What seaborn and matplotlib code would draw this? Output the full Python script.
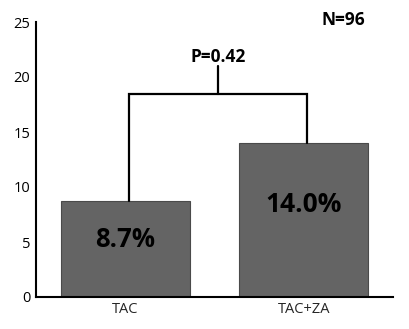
import matplotlib
matplotlib.use("Agg")
import matplotlib.pyplot as plt
import seaborn as sns
import pandas as pd

categories = ["TAC", "TAC+ZA"]
values = [8.7, 14.0]
bar_labels = ["8.7%", "14.0%"]
p_text = "P=0.42"
n_text = "N=96"

sns.set_theme(style="white")
plt.rcParams['font.family'] = ['Open Sans', 'DejaVu Sans']

fig = plt.figure(figsize=(4.09, 3.29), dpi=100)
ax = fig.add_axes([36/409, 1-297/329, (393-36)/409, (297-22)/329])

df = pd.DataFrame({"group": categories, "value": values})
sns.barplot(data=df, x="group", y="value", color="#646464", edgecolor="#4a4a4a",
            linewidth=0.8, width=0.72, saturation=1, ax=ax)

ax.set_xlim(-0.5, 1.5)
ax.set_ylim(0, 25)
ax.set_yticks([0, 5, 10, 15, 20, 25])
ax.set_xlabel("")
ax.set_ylabel("")
for s in ["top", "right"]:
    ax.spines[s].set_visible(False)
for s in ["left", "bottom"]:
    ax.spines[s].set_linewidth(1.5)
    ax.spines[s].set_color("black")

ax.tick_params(axis="y", direction="in", length=6, width=1.5, labelsize=10.5, pad=4, colors="black")
ax.tick_params(axis="x", which="major", length=0, labelsize=10.5, pad=3.5)
ax.set_xticks([-0.5, 0.5, 1.5], minor=True)
ax.tick_params(axis="x", which="minor", direction="in", length=5, width=1.5, color="black")

# bar value labels
ax.text(0, 5.2, bar_labels[0], ha="center", va="center", fontsize=18.5, fontweight="bold", color="black")
ax.text(1, 8.4, bar_labels[1], ha="center", va="center", fontsize=19, fontweight="bold", color="black")

# bracket
yb = 18.45
ax.plot([0.02, 0.02, 1.02, 1.02], [values[0], yb, yb, values[1]], color="black", lw=1.6,
        solid_joinstyle="miter", clip_on=False)
ax.plot([0.52, 0.52], [yb, 21.0], color="black", lw=1.6)
ax.text(0.52, 21.85, p_text, ha="center", va="center", fontsize=12.5, fontweight="bold", color="black")

ax.text(1.22, 25.2, n_text, ha="center", va="center", fontsize=12.5, fontweight="bold", color="black")

fig.savefig("out.png", dpi=100)
